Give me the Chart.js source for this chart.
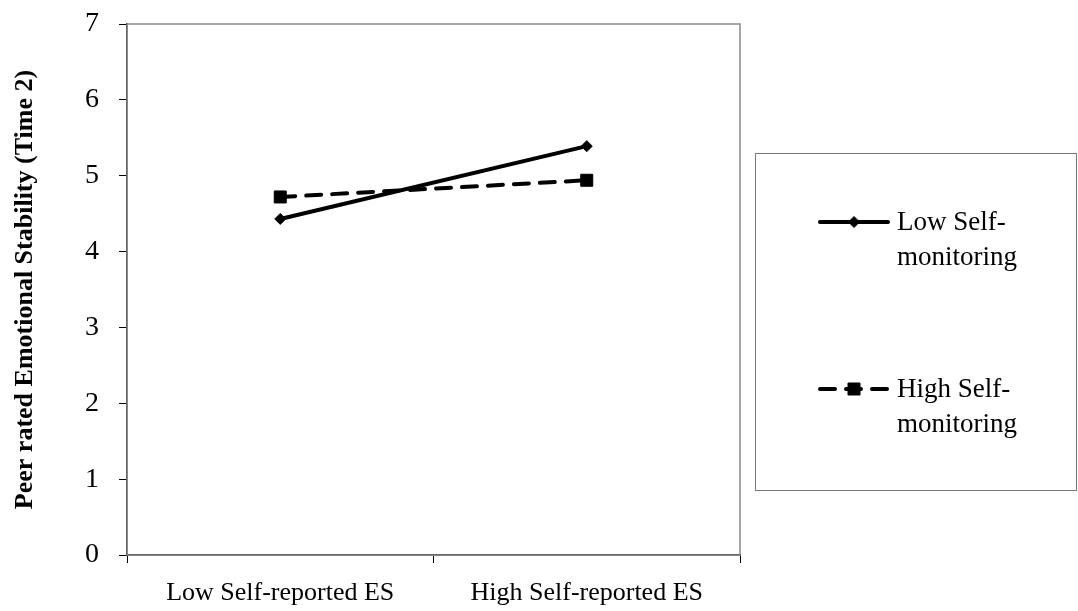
<!DOCTYPE html>
<html>
<head>
<meta charset="utf-8">
<script src="https://cdn.jsdelivr.net/npm/chart.js@4/dist/chart.umd.min.js"></script>
<style>
  html, body { margin: 0; padding: 0; background: #fff; }
  #wrap { width: 1078px; height: 611px; }
</style>
</head>
<body>
<div id="wrap"><canvas id="chart"></canvas></div>
<script>
const categories = ['Low Self-reported ES', 'High Self-reported ES'];
const seriesNames = ['Low Self-monitoring', 'High Self-monitoring'];
const lowSelfMonitoring = [4.43, 5.39];
const highSelfMonitoring = [4.72, 4.94];
const yTicks = [0, 1, 2, 3, 4, 5, 6, 7];
const yTitle = 'Peer rated Emotional Stability (Time 2)';

const serif = "'Liberation Serif', 'Times New Roman', serif";

// gray frame on top/right of the plot area
const frame = {
  id: 'frame',
  beforeDatasetsDraw(chart) {
    const a = chart.chartArea;
    const ctx = chart.ctx;
    ctx.save();
    ctx.strokeStyle = '#8a8a8a';
    ctx.lineWidth = 1.5;
    ctx.strokeRect(a.left, a.top, a.right - a.left, a.bottom - a.top);
    ctx.restore();
  }
};

// boxed legend at the right with wrapped labels
const sideLegend = {
  id: 'sideLegend',
  afterDraw(chart) {
    const ctx = chart.ctx;
    ctx.save();
    ctx.strokeStyle = '#777';
    ctx.lineWidth = 1;
    ctx.strokeRect(755.5, 153.5, 321, 337);

    const rows = [222, 389];
    chart.data.datasets.forEach((ds, i) => {
      const y = rows[i];
      ctx.save();
      ctx.strokeStyle = ds.borderColor;
      ctx.lineWidth = ds.borderWidth;
      ctx.lineCap = 'round';
      ctx.setLineDash(ds.borderDash || []);
      ctx.beginPath();
      ctx.moveTo(820, y);
      ctx.lineTo(888, y);
      ctx.stroke();
      ctx.restore();
      ctx.fillStyle = ds.pointBackgroundColor;
      ctx.strokeStyle = ds.pointBorderColor;
      ctx.lineWidth = 1;
      Chart.helpers.drawPoint(ctx, {pointStyle: ds.pointStyle, radius: ds.pointRadius, rotation: 0, borderWidth: 1}, 854, y);

      ctx.fillStyle = '#000';
      ctx.font = '27px ' + serif;
      ctx.textBaseline = 'middle';
      const lines = ds.label.split(/(?<=-)/);
      lines.forEach((t, k) => ctx.fillText(t, 897, y + 1 + k * 35));
    });
    ctx.restore();
  }
};

const ctx = document.getElementById('chart');
new Chart(ctx, {
  type: 'line',
  data: {
    labels: categories,
    datasets: [
      {
        label: seriesNames[0],
        data: lowSelfMonitoring,
        borderColor: '#000',
        borderWidth: 4,
        pointStyle: 'rectRot',
        pointRadius: 5.5,
        pointBackgroundColor: '#000',
        pointBorderColor: '#000',
        pointBorderWidth: 1
      },
      {
        label: seriesNames[1],
        data: highSelfMonitoring,
        borderColor: '#000',
        borderWidth: 4,
        borderDash: [15, 11],
        borderCapStyle: 'round',
        pointStyle: 'rect',
        pointRadius: 8.5,
        pointBackgroundColor: '#000',
        pointBorderColor: '#000',
        pointBorderWidth: 1
      }
    ]
  },
  options: {
    responsive: true,
    maintainAspectRatio: false,
    animation: false,
    layout: {
      padding: {top: 24, right: 338, bottom: 0, left: 0}
    },
    plugins: {
      legend: {display: false},
      tooltip: {enabled: false}
    },
    scales: {
      x: {
        offset: true,
        grid: {
          offset: true,
          drawOnChartArea: false,
          drawTicks: true,
          tickLength: 8,
          color: '#000'
        },
        border: {display: true, color: '#000', width: 1.5},
        ticks: {
          color: '#000',
          padding: 15,
          maxRotation: 0,
          font: {family: serif, size: 26}
        },
        afterFit(scale) {
          scale.height = 56;
          scale.paddingLeft = 0;
          scale.paddingRight = 0;
        }
      },
      y: {
        min: 0,
        max: 7,
        afterBuildTicks(scale) {
          scale.ticks = yTicks.map(v => ({value: v}));
        },
        grid: {
          drawOnChartArea: false,
          drawTicks: true,
          tickLength: 8,
          color: '#000'
        },
        border: {display: true, color: '#000', width: 1.5},
        ticks: {
          color: '#000',
          padding: 20,
          font: {family: serif, size: 28}
        },
        title: {
          display: true,
          text: yTitle,
          color: '#000',
          padding: {top: 10, bottom: 0},
          font: {family: serif, size: 26, weight: 'bold'}
        },
        afterFit(scale) {
          scale.width = 127;
          scale.paddingTop = 0;
          scale.paddingBottom = 0;
        }
      }
    }
  },
  plugins: [frame, sideLegend]
});
</script>
</body>
</html>
